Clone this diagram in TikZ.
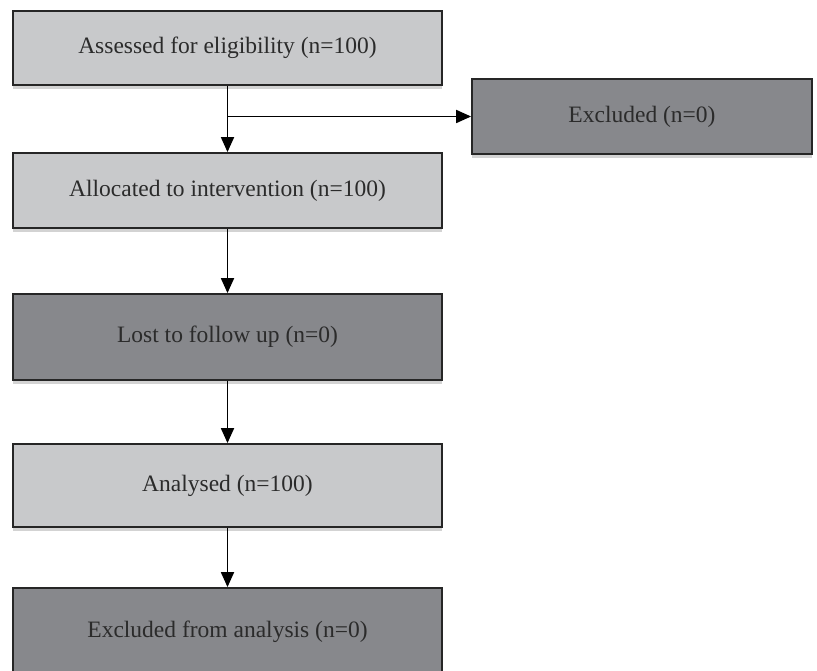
\documentclass[tikz,border=0pt]{standalone}
\usepackage{fontspec}
\setmainfont{Liberation Serif}
\usetikzlibrary{arrows.meta,positioning,shadows}
\definecolor{boxlight}{HTML}{C8C9CB}
\definecolor{boxdark}{HTML}{87888C}
\definecolor{txt}{HTML}{2B2B2B}

\begin{document}
\begin{tikzpicture}[x=1pt,y=-1pt,
  etape/.style={draw=black!85,line width=1.8pt,minimum width=429pt,text=txt,font=\fontsize{23.5}{28}\selectfont,drop shadow={shadow xshift=0pt,shadow yshift=-4pt,opacity=0.35}},
  fl/.style={line width=1.8pt,-{Triangle[length=15pt,width=13pt]}}]
  \useasboundingbox (0,0) rectangle (817,671);
  \foreach \y/\h/\c/\t [count=\i] in {
      48/74/boxlight/{Assessed for eligibility (n=100)},
      190.5/75/boxlight/{Allocated to intervention (n=100)},
      337/86/boxdark/{Lost to follow up (n=0)},
      485.5/83/boxlight/{Analysed (n=100)},
      632/88/boxdark/{Excluded from analysis (n=0)}}{
    \node[etape,fill=\c,minimum height=\h pt] (b\i) at (227.5,\y) {\t};
  }
  \node[etape,fill=boxdark,minimum width=340pt,minimum height=75pt] (excl) at (642,116.5) {Excluded (n=0)};
  \foreach \i [evaluate=\i as \j using int(\i+1)] in {1,...,4}
    \draw[fl] (b\i) -- (b\j);
  \coordinate (br) at (b1.south |- excl.west);
  \draw[fl] (br) -- (excl);
\end{tikzpicture}
\end{document}
